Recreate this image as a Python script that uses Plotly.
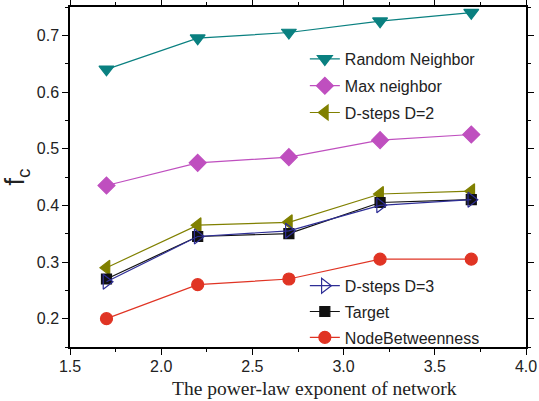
import plotly.graph_objects as go

x = [1.7, 2.2, 2.7, 3.2, 3.7]
random_neighbor = [0.64, 0.695, 0.705, 0.725, 0.74]
max_neighbor = [0.435, 0.475, 0.485, 0.515, 0.525]
dsteps2 = [0.29, 0.365, 0.37, 0.42, 0.425]
dsteps3 = [0.265, 0.345, 0.355, 0.40, 0.41]
target = [0.27, 0.345, 0.35, 0.405, 0.41]
node_betweenness = [0.20, 0.26, 0.27, 0.305, 0.305]

fig = go.Figure()

def add(name, y, color, symbol, legend, rank, fill=None, size=12):
    fig.add_trace(go.Scatter(
        x=x, y=y, name=name, mode="lines+markers",
        line=dict(color=color, width=1.2),
        marker=dict(symbol=symbol, size=size, color=fill if fill else color,
                    line=dict(color=color, width=1.2)),
        legend=legend, legendgroup=name, legendrank=rank,
    ))

add("Random Neighbor", random_neighbor, "#0A8080", "triangle-down", "legend", 1, size=13)
add("Max neighbor", max_neighbor, "#BF4FBF", "diamond", "legend", 2, size=13)
add("D-steps D=2", dsteps2, "#808000", "triangle-left", "legend", 3, size=13)
add("Target", target, "#111111", "square", "legend2", 2, size=10)
add("D-steps D=3", dsteps3, "#2E2E96", "triangle-right-open", "legend2", 1, size=13)
add("NodeBetweenness", node_betweenness, "#E03424", "circle", "legend2", 3, size=12)

axis_common = dict(
    showline=True, linecolor="black", linewidth=1.5, mirror="ticks",
    ticks="outside", ticklen=6, tickwidth=1.2, tickcolor="black",
    showgrid=False, zeroline=False, automargin=False,
    tickfont=dict(family="Liberation Sans, Arial", size=16, color="#222"),
)

legend_font = dict(family="Liberation Sans, Arial", size=16, color="#222")

fig.update_layout(
    width=539, height=401,
    margin=dict(l=70, r=13, t=7, b=54),
    paper_bgcolor="white", plot_bgcolor="white",
    xaxis=dict(range=[1.5, 4.0], dtick=0.5, tickformat=".1f", ticklabelstandoff=-2,
               minor=dict(dtick=0.25, ticks="outside", ticklen=3, tickcolor="black"),
               **axis_common),
    yaxis=dict(range=[0.15, 0.75], dtick=0.1, tickformat=".1f",
               minor=dict(dtick=0.05, ticks="outside", ticklen=3, tickcolor="black"),
               title=dict(text="f<sub>c</sub>",
                          font=dict(family="Liberation Sans, Arial", size=27, color="#222")),
               **axis_common),
    legend=dict(x=0.515, y=0.897, xanchor="left", yanchor="top",
                bgcolor="rgba(0,0,0,0)", font=legend_font, tracegroupgap=3),
    legend2=dict(x=0.515, y=0.23, xanchor="left", yanchor="top",
                 bgcolor="rgba(0,0,0,0)", font=legend_font, tracegroupgap=2),
    annotations=[dict(
        text="The power-law exponent of network", xref="paper", yref="paper",
        x=0.537, y=0, yshift=-41, xanchor="center", yanchor="middle", showarrow=False,
        font=dict(family="Liberation Serif, Times New Roman", size=19.5, color="#222"),
    )],
)

fig.write_html("out.html")
